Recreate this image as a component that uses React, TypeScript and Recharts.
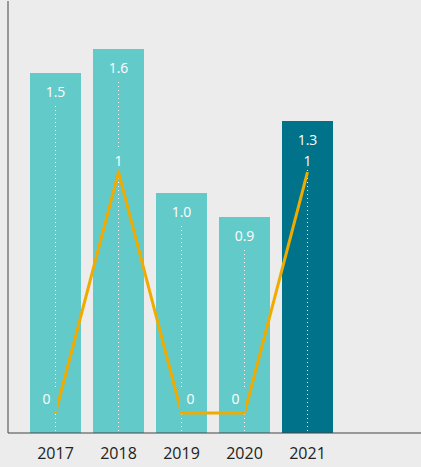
import React from 'react';
import { ComposedChart, Bar, Line, XAxis, YAxis, LabelList } from 'recharts';

const years = ['2017', '2018', '2019', '2020', '2021'];
const barValues = [1.5, 1.6, 1.0, 0.9, 1.3];
const lineValues = [0, 1, 0, 0, 1];
const barColors = ['#63caca', '#63caca', '#63caca', '#63caca', '#00728a'];

const data = years.map((year, i) => ({ year, bar: barValues[i], line: lineValues[i] }));

const FONT = '"Open Sans", sans-serif';

const BarWithRule = (props: any) => {
    const { x, y, width, height, index } = props;
    const cx = x + width / 2;
    return (
        <g>
            <rect x={x} y={y} width={width} height={height} fill={barColors[index]} />
            <line x1={cx} x2={cx} y1={y + 33} y2={y + height} stroke="#ffffff" strokeWidth={1} strokeDasharray="1 3" />
        </g>
    );
};

const BarLabel = (props: any) => {
    const { x, y, width, value } = props;
    return (
        <text x={x + width / 2} y={y + 24} fill="#ffffff" fontSize={14} fontFamily={FONT} textAnchor="middle">
            {Number(value).toFixed(1)}
        </text>
    );
};

const LineLabel = (props: any) => {
    const { x, y, value, index } = props;
    // zero labels move to the side the line is not on
    let dx = 0;
    if (value === 0) {
        const prev = index > 0 ? lineValues[index - 1] : value;
        dx = prev > value ? 9 : -9;
    }
    const ty = value === 0 ? y - 9 : y - 6;
    return (
        <g>
            <rect x={x - 1.5} y={y - 25} width={3} height={23} fill={barColors[index]} />
            <text x={x + dx} y={ty} fill="#ffffff" fontSize={14} fontFamily={FONT} textAnchor="middle">
                {value}
            </text>
        </g>
    );
};

export default function App() {
    return (
        <div style={{ position: 'absolute', left: 0, top: 0, width: 421, height: 467, background: '#ececec' }}>
            <ComposedChart
                width={421}
                height={467}
                data={data}
                margin={{ top: 1, right: 0, left: 0, bottom: 0 }}
            >
                <XAxis
                    dataKey="year"
                    height={34}
                    padding={{ left: 16, right: 82 }}
                    axisLine={{ stroke: '#444444', strokeWidth: 1 }}
                    tickLine={false}
                    tickSize={0}
                    tickMargin={15}
                    tick={{ fill: '#222222', fontSize: 16, fontFamily: FONT }}
                />
                <YAxis
                    yAxisId="bar"
                    width={8}
                    domain={[0, 1.8]}
                    tick={false}
                    tickLine={false}
                    axisLine={{ stroke: '#444444', strokeWidth: 1 }}
                />
                <YAxis yAxisId="line" hide domain={[0, 1.71]} padding={{ top: 0, bottom: 20 }} />
                <Bar
                    yAxisId="bar"
                    dataKey="bar"
                    barSize={51}
                    shape={BarWithRule}
                    isAnimationActive={false}
                >
                    <LabelList dataKey="bar" content={BarLabel} />
                </Bar>
                <Line
                    yAxisId="line"
                    dataKey="line"
                    type="linear"
                    stroke="#f0ab00"
                    strokeWidth={3}
                    dot={false}
                    activeDot={false}
                    isAnimationActive={false}
                >
                    <LabelList dataKey="line" content={LineLabel} />
                </Line>
            </ComposedChart>
        </div>
    );
}
